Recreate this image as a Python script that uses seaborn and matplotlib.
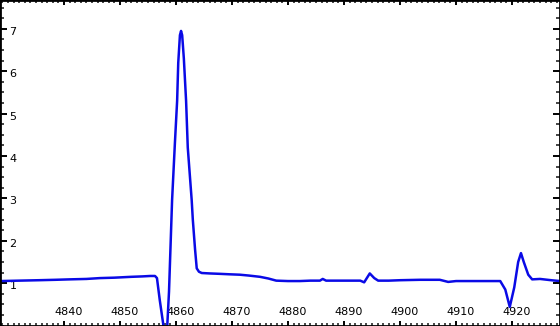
import matplotlib
matplotlib.use("Agg")
import matplotlib.pyplot as plt
import matplotlib.transforms as mtransforms
from matplotlib.ticker import MultipleLocator
import seaborn as sns
import pandas as pd

# Wavelength / intensity pairs
wavelength = [4828.6, 4832.0, 4835.5, 4838.5, 4841.0, 4844.0, 4846.4, 4849.0, 4852.0, 4854.0,
              4855.4, 4856.25, 4856.6, 4857.1, 4857.7, 4858.0, 4858.4, 4858.75, 4859.3, 4859.8,
              4860.2, 4860.4, 4860.7, 4860.9, 4861.1, 4861.4, 4861.8, 4862.1, 4862.8, 4863.0,
              4863.4, 4863.7, 4864.1, 4864.6, 4866.0, 4867.9, 4869.5, 4871.4, 4873.0, 4875.0,
              4876.5, 4877.9, 4880.0, 4882.1, 4884.0, 4885.7, 4886.2, 4886.8, 4889.0, 4891.0,
              4892.9, 4893.6, 4894.6, 4895.4, 4896.1, 4898.0, 4900.0, 4903.6, 4907.1, 4908.0,
              4908.6, 4910.0, 4912.5, 4915.0, 4917.9, 4918.8, 4919.6, 4920.4, 4921.1, 4921.6,
              4922.1, 4922.9, 4923.6, 4925.0, 4927.0, 4928.6]
intensity = [1.05, 1.06, 1.07, 1.08, 1.09, 1.10, 1.12, 1.13, 1.15, 1.16,
             1.17, 1.17, 1.12, 0.60, 0.05, -0.30, -0.10, 0.80, 2.96, 4.30,
             5.30, 6.20, 6.85, 6.95, 6.85, 6.30, 5.30, 4.20, 2.96, 2.50,
             1.80, 1.35, 1.27, 1.24, 1.23, 1.22, 1.21, 1.20, 1.18, 1.15,
             1.11, 1.06, 1.05, 1.05, 1.06, 1.06, 1.10, 1.06, 1.06, 1.06,
             1.06, 1.02, 1.23, 1.12, 1.06, 1.06, 1.07, 1.08, 1.08, 1.05,
             1.03, 1.05, 1.05, 1.05, 1.05, 0.85, 0.44, 0.90, 1.50, 1.71,
             1.50, 1.20, 1.09, 1.10, 1.07, 1.05]

x_ticks = [4840, 4850, 4860, 4870, 4880, 4890, 4900, 4910, 4920]
y_ticks = [1, 2, 3, 4, 5, 6, 7]

df = pd.DataFrame({"wavelength": wavelength, "intensity": intensity})

sns.set_style("white")
plt.rcParams['font.family'] = ['DejaVu Sans']

fig = plt.figure(figsize=(5.6, 3.26), dpi=100)
ax = fig.add_axes([0, 0, 1, 1])
sns.lineplot(data=df, x="wavelength", y="intensity", ax=ax, color="#0a0ae6",
             linewidth=1.8, sort=False)

ax.set_xlim(4828.57, 4928.57)
ax.set_ylim(-0.01, 7.68)
ax.set_xlabel("")
ax.set_ylabel("")
ax.set_xticks(x_ticks)
ax.set_xticklabels([str(v) for v in x_ticks])
ax.set_yticks(y_ticks)
ax.set_yticklabels([str(v) for v in y_ticks])
ax.xaxis.set_minor_locator(MultipleLocator(1))
ax.yaxis.set_minor_locator(MultipleLocator(0.25))

for s in ax.spines.values():
    s.set_visible(True)
    s.set_color("black")
    s.set_linewidth(2.0)

ax.tick_params(axis='x', which='major', direction='in', length=3.8, width=1.4,
               top=True, bottom=True, labelsize=8, pad=-13.5, colors='black')
ax.tick_params(axis='x', which='minor', direction='in', length=2.2, width=1.2,
               top=True, bottom=True)
ax.tick_params(axis='y', which='major', direction='in', length=5.0, width=1.4,
               left=True, right=True, labelsize=8, pad=-12, colors='black')
ax.tick_params(axis='y', which='minor', direction='in', length=2.9, width=1.2,
               left=True, right=True)

off_x = mtransforms.ScaledTranslation(5 / 100, 0, fig.dpi_scale_trans)
for lab in ax.get_xticklabels():
    lab.set_transform(lab.get_transform() + off_x)
off_y = mtransforms.ScaledTranslation(0, -2 / 100, fig.dpi_scale_trans)
for lab in ax.get_yticklabels():
    lab.set_transform(lab.get_transform() + off_y)

fig.savefig("out.png", dpi=100)
